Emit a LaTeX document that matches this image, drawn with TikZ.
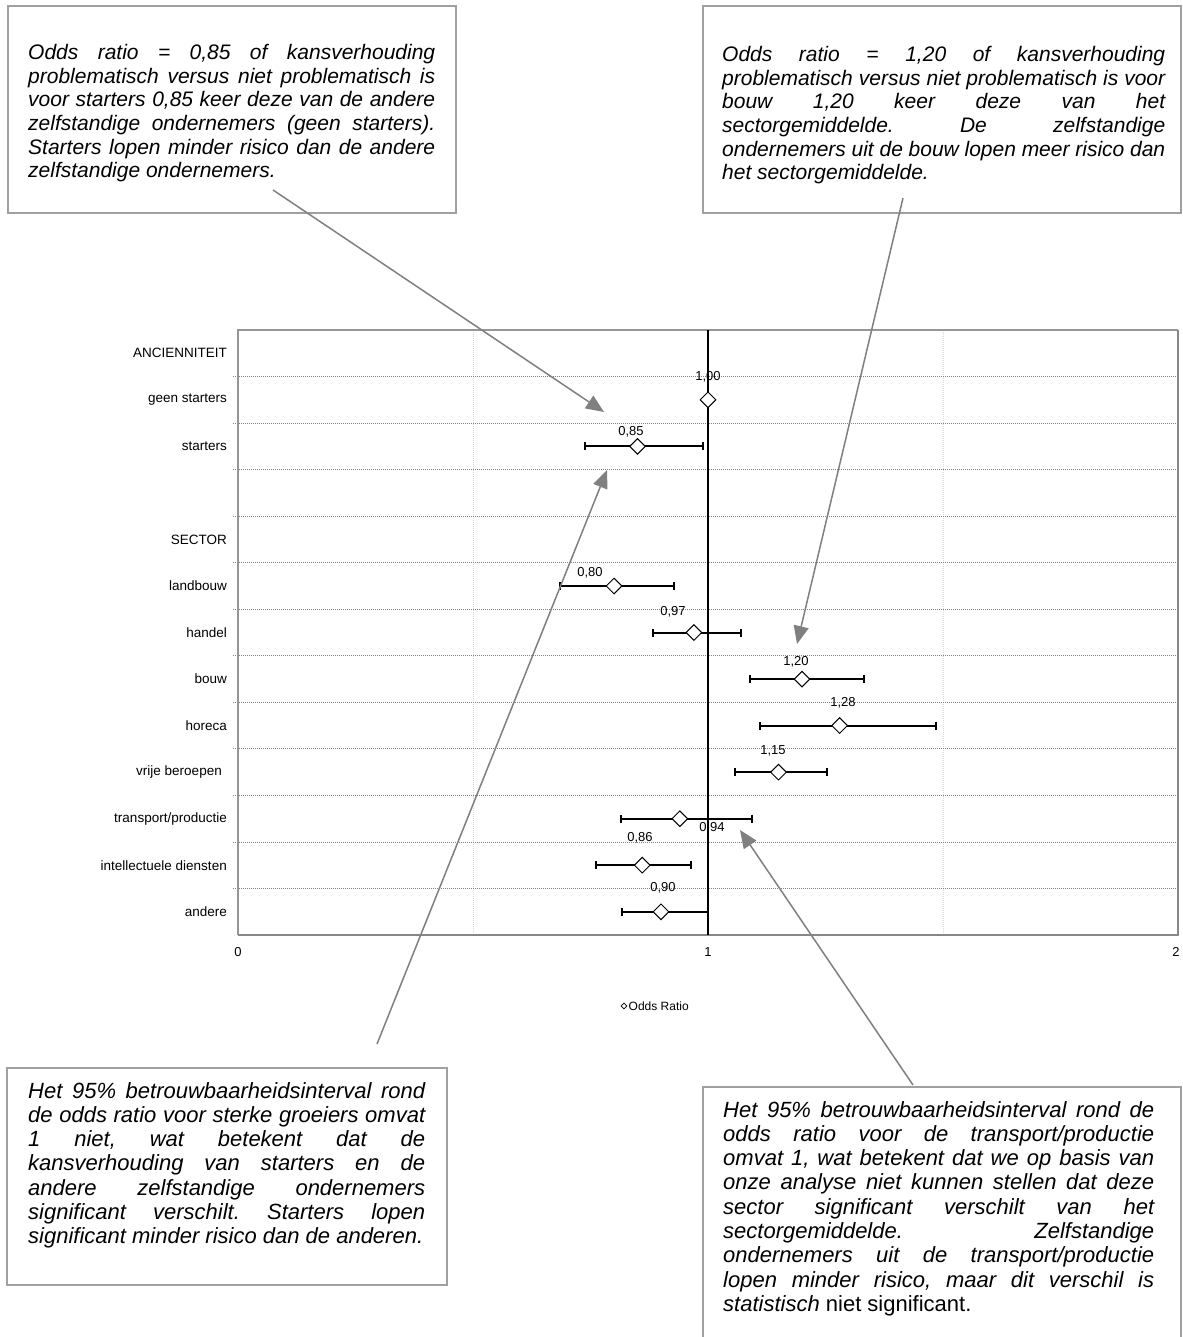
\documentclass[tikz,border=0pt]{standalone}
\usepackage{fontspec}
\setmainfont{Liberation Sans}
\usetikzlibrary{arrows.meta,shapes.geometric}
\definecolor{boxgray}{RGB}{160,160,160}
\definecolor{arrowgray}{RGB}{128,128,128}
\definecolor{gridgray}{RGB}{130,130,130}
\definecolor{vgridgray}{RGB}{215,215,215}
\definecolor{framegray}{RGB}{150,150,150}
\newcommand\jl[2]{\hbox to #1{\spaceskip=0.278em plus 1fill minus 0.1em\relax #2}}
\tikzset{
  callout/.style={draw=boxgray, line width=2pt, fill=white, rectangle, inner sep=0pt, anchor=north west},
  ctext/.style={anchor=base west, inner sep=0pt},
  rowlab/.style={anchor=east, inner sep=0pt, font=\fontsize{13.5}{16}\selectfont},
  vallab/.style={inner sep=0pt, font=\fontsize{13}{15}\selectfont},
  axlab/.style={inner sep=0pt, font=\fontsize{13}{15}\selectfont},
  ptmark/.style={diamond, draw=black, fill=white, line width=1pt, minimum width=16pt, minimum height=16pt, inner sep=0pt},
  cibar/.style={black, line width=2pt, {Bar[width=8pt]}-{Bar[width=8pt]}},
  callarrow/.style={draw=arrowgray, line width=1.5pt, -{Triangle[length=18pt,width=15pt]}, fill=arrowgray},
  hgrid/.style={draw=gridgray, line width=0.8pt, dash pattern=on 1pt off 1pt},
  vgrid/.style={draw=vgridgray, line width=1pt, dash pattern=on 1pt off 1pt},
}
\begin{document}
\begin{tikzpicture}[x=1pt,y=-1pt]
\useasboundingbox[fill=white] (0,0) rectangle (1182,1337);

% ---- plot area ----
\draw[vgrid] (473,330) -- (473,935);
\draw[vgrid] (943,330) -- (943,935);
\foreach \k in {1,...,12}{
  \draw[hgrid] (233,{330+46.54*\k}) -- (1178,{330+46.54*\k});
}
\draw[framegray, line width=1.5pt] (238,935) -- (238,330) -- (1178,330);
\draw[framegray!90!black, line width=2.8pt] (238,935) -- (1178,935) -- (1178,330);
\draw[black, line width=1.6pt] (708,330) -- (708,935);

% row labels
\node[rowlab] (r0)  at (227,353.3) {ANCIENNITEIT};
\node[rowlab] (r1)  at (227,399.8) {geen starters};
\node[rowlab] (r2)  at (227,446.4) {starters};
\node[rowlab] (r4)  at (227,539.4) {SECTOR};
\node[rowlab] (r5)  at (227,586.0) {landbouw};
\node[rowlab] (r6)  at (227,632.5) {handel};
\node[rowlab] (r7)  at (227,679.1) {bouw};
\node[rowlab] (r8)  at (227,725.6) {horeca};
\node[rowlab] (r9)  at (222,772.2) {vrije beroepen};
\node[rowlab] (r10) at (227,818.7) {transport/productie};
\node[rowlab] (r11) at (227,865.2) {intellectuele diensten};
\node[rowlab] (r12) at (227,911.8) {andere};

% axis labels
\node[axlab] (x0) at (238,952) {0};
\node[axlab] (x1) at (708,952) {1};
\node[axlab] (x2) at (1176,952) {2};

% error bars
\draw[cibar] (584,446.4) -- (704,446.4);
\draw[cibar] (559,586.0) -- (675,586.0);
\draw[cibar] (652,632.5) -- (742,632.5);
\draw[cibar] (749,679.1) -- (865,679.1);
\draw[cibar] (759,725.6) -- (937,725.6);
\draw[cibar] (734,772.2) -- (828,772.2);
\draw[cibar] (620,818.7) -- (753,818.7);
\draw[cibar] (595,865.2) -- (692,865.2);
\draw[cibar] (621,911.8) -- (709,911.8);

% points
\node[ptmark] (p1)  at (708.0,399.8) {};
\node[ptmark] (p2)  at (637.5,446.4) {};
\node[ptmark] (p5)  at (614.0,586.0) {};
\node[ptmark] (p6)  at (693.9,632.5) {};
\node[ptmark] (p7)  at (802.0,679.1) {};
\node[ptmark] (p8)  at (839.6,725.6) {};
\node[ptmark] (p9)  at (778.5,772.2) {};
\node[ptmark] (p10) at (679.8,818.7) {};
\node[ptmark] (p11) at (642.2,865.2) {};
\node[ptmark] (p12) at (661.0,911.8) {};

% value labels
\node[vallab] (v1)  at (708,377) {1,00};
\node[vallab] (v2)  at (631,432) {0,85};
\node[vallab] (v5)  at (590,573) {0,80};
\node[vallab] (v6)  at (673,612) {0,97};
\node[vallab] (v7)  at (796,662) {1,20};
\node[vallab] (v8)  at (843,703) {1,28};
\node[vallab] (v9)  at (773,751) {1,15};
\node[vallab] (v10) at (712,828) {0,94};
\node[vallab] (v11) at (640,838) {0,86};
\node[vallab] (v12) at (663,888) {0,90};

% legend
\node[diamond, draw=black, fill=white, line width=0.6pt, minimum width=6pt, minimum height=6pt, inner sep=0pt] (legm) at (624,1006) {};
\node[anchor=west, inner sep=0pt, font=\fontsize{12}{14}\selectfont] (legt) at (628.5,1006) {Odds Ratio};

% ---- callout boxes ----
\node[callout, minimum width=448pt, minimum height=207pt] (tl) at (7,5) {};
\node[callout, minimum width=478pt, minimum height=207pt] (tr) at (702,5) {};
\node[callout, minimum width=440pt, minimum height=217pt] (bl) at (6,1067) {};
\node[callout, minimum width=478pt, minimum height=270pt] (br) at (702,1086) {};

\node[ctext] (tlt) at (28,59.5) {\vtop{\fontsize{21}{23.7}\selectfont\itshape\frenchspacing
\jl{407pt}{Odds ratio = 0,85 of kansverhouding}
\jl{407pt}{problematisch versus niet problematisch is}
\jl{407pt}{voor starters 0,85 keer deze van de andere}
\jl{407pt}{zelfstandige ondernemers (geen starters).}
\jl{407pt}{Starters lopen minder risico dan de andere}
\hbox{zelfstandige ondernemers.}}};

\node[ctext] (trt) at (722,61.5) {\vtop{\fontsize{21}{23.7}\selectfont\itshape\frenchspacing
\jl{443pt}{Odds ratio = 1,20 of kansverhouding}
\jl{443pt}{problematisch versus niet problematisch is voor}
\jl{443pt}{bouw 1,20 keer deze van het}
\jl{443pt}{sectorgemiddelde. De zelfstandige}
\jl{443pt}{ondernemers uit de bouw lopen meer risico dan}
\hbox{het sectorgemiddelde.}}};

\node[ctext] (blt) at (28,1098) {\vtop{\fontsize{22}{24.3}\selectfont\itshape\frenchspacing
\jl{397pt}{Het 95\% betrouwbaarheidsinterval rond}
\jl{397pt}{de odds ratio voor sterke groeiers omvat}
\jl{397pt}{1 niet, wat betekent dat de}
\jl{397pt}{kansverhouding van starters en de}
\jl{397pt}{andere zelfstandige ondernemers}
\jl{397pt}{significant verschilt. Starters lopen}
\hbox{significant minder risico dan de anderen.}}};

\node[ctext] (brt) at (723,1117) {\vtop{\fontsize{22}{24.3}\selectfont\itshape\frenchspacing
\jl{431pt}{Het 95\% betrouwbaarheidsinterval rond de}
\jl{431pt}{odds ratio voor de transport/productie}
\jl{431pt}{omvat 1, wat betekent dat we op basis van}
\jl{431pt}{onze analyse niet kunnen stellen dat deze}
\jl{431pt}{sector significant verschilt van het}
\jl{431pt}{sectorgemiddelde. Zelfstandige}
\jl{431pt}{ondernemers uit de transport/productie}
\jl{431pt}{lopen minder risico, maar dit verschil is}
\hbox{statistisch\upshape{} niet significant.}}};

% ---- callout connectors ----
\coordinate (a1s) at (273,190);  \coordinate (a1e) at (604,412);
\coordinate (a2s) at (903,198);  \coordinate (a2e) at (797,644);
\coordinate (a3s) at (377,1044); \coordinate (a3e) at (607,470);
\coordinate (a4s) at (913,1085); \coordinate (a4e) at (740,830);
\draw[callarrow] (a1s) -- (a1e);
\draw[callarrow] (a2s) -- (a2e);
\draw[callarrow] (a3s) -- (a3e);
\draw[callarrow] (a4s) -- (a4e);
\end{tikzpicture}
\end{document}
